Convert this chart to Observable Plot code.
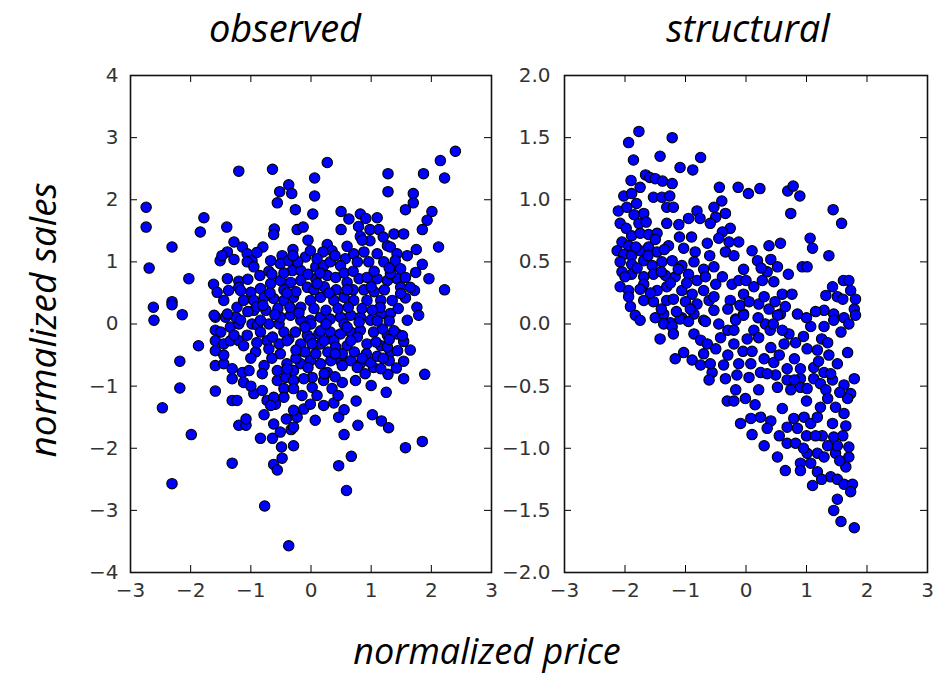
<!DOCTYPE html>
<html><head><meta charset="utf-8">
<script src="https://cdn.jsdelivr.net/npm/d3@7"></script>
<script src="https://cdn.jsdelivr.net/npm/@observablehq/plot@0.6"></script>
<style>
html,body{margin:0;padding:0;background:#fff;}
#wrap{position:relative;width:935px;height:677px;overflow:hidden;background:#fff;}
#wrap > svg{position:absolute;top:0;}
</style></head><body><div id="wrap"></div>
<script>
// Titles and axis labels
const panelTitles = ["observed", "structural"];
const xAxisLabel = "normalized price";
const yAxisLabel = "normalized sales";

// Tick values
const xTicks = [-3, -2, -1, 0, 1, 2, 3];
const observedYTicks = [-4, -3, -2, -1, 0, 1, 2, 3, 4];
const structuralYTicks = [-2, -1.5, -1, -0.5, 0, 0.5, 1, 1.5, 2];

// observed panel: [normalized price, normalized sales]
const observed = [
[-1.20,2.46],[-0.64,2.49],[-0.37,2.24],[-0.52,2.13],[-0.32,2.10],[-0.56,1.95],[-0.26,1.84],[-2.74,1.88],[-2.74,1.56],[-1.78,1.71],
[-1.84,1.48],[-1.40,1.56],[-0.61,1.53],[-0.62,1.44],[-0.23,1.52],[-2.31,1.24],[-2.69,0.90],[-2.03,0.73],[-2.62,0.27],[-2.61,0.06],
[-2.31,0.36],[-2.31,0.31],[-2.14,0.15],[-1.28,1.32],[-1.39,1.16],[-1.51,1.02],[-1.28,1.04],[-1.14,1.24],[-1.06,1.13],[-0.98,1.02],
[-0.80,1.24],[-0.48,1.10],[-0.30,1.20],[-0.67,1.02],[-0.70,0.85],[-1.62,0.64],[-1.56,0.51],[-1.39,0.73],[-1.37,0.54],[-1.20,0.69],
[-1.20,0.59],
[0.27,2.60],[0.06,2.35],[0.06,2.06],[0.03,1.77],[-0.13,1.56],[1.28,2.42],[1.28,2.13],[1.87,2.42],[2.15,2.63],[2.40,2.78],
[2.22,2.35],[1.70,2.10],[1.70,1.95],[1.57,1.84],[2.01,1.81],[1.93,1.67],[1.85,1.52],[2.12,1.24],[2.22,0.55],[1.38,1.45],
[1.54,1.45],[0.50,1.81],[0.63,1.69],[0.82,1.77],[1.10,1.71],[0.50,1.52],[0.79,1.57],[0.98,1.52],[1.13,1.52],[0.82,1.41],
[0.98,1.34],[0.91,1.70],[0.27,1.28],[0.35,1.18],[1.27,1.26],[1.32,1.24],[1.85,0.96],[1.96,0.73],[1.72,0.54],[1.57,0.42],
[1.76,0.27],[1.79,0.14],[1.60,0.06],[-0.09,1.08],[0.20,1.16],[0.57,1.05],
[-1.87,-0.35],[-2.18,-0.60],[-2.18,-1.03],[-2.47,-1.35],[-1.99,-1.78],[-2.31,-2.57],[-1.31,-2.24],[-0.77,-2.93],[-0.37,-3.57],[-1.59,-1.08],
[-1.31,-1.23],[-1.23,-1.23],[-1.20,-1.63],[-1.08,-1.63],[-1.08,-1.53],[-0.84,-1.84],[-0.64,-1.84],[-0.49,-1.98],[-0.48,-2.16],[-0.62,-2.26],
[-0.56,-2.35],[-0.29,-1.96],[-0.78,-1.46],[-0.62,-1.61],[-0.51,-1.74],[-0.41,-1.53],[-0.33,-1.70],[-0.26,-1.47],[-0.95,-1.12],[-0.81,-1.07],
[-0.73,-1.23],[-0.59,-1.29],[-1.59,-0.67],[-1.45,-0.64],[-1.31,-0.72],[-1.31,-0.88],[-1.14,-0.78],[-1.03,-0.75],[-1.12,-0.94],[-0.92,-0.45],
[-0.78,-0.67],[-0.81,-0.80],[-1.59,0.11],[-1.59,-0.10],[-1.59,-0.27],[-1.59,-0.43],[-1.45,-0.32],[-1.34,-0.05],[-1.34,-0.27],[-1.20,-0.27],
[-1.20,0.00],[-1.12,-0.35],[-1.42,0.11],[-1.25,0.11],[-0.98,0.00],[-0.89,-0.02],[-0.70,0.00],[-0.53,0.00],[-0.73,-0.27],[-0.53,-0.32],
[-0.37,-0.24],[-0.51,-0.48],[-0.40,-0.64],[-0.29,-0.75],[-0.56,-0.91],[-0.42,-0.86],[-0.29,-0.91],[-0.45,-1.04],[-0.29,-1.04],
[0.59,-2.68],[0.46,-2.28],[0.67,-2.13],[0.55,-1.78],[0.78,-1.63],[0.46,-1.50],[0.55,-1.38],[0.75,-1.24],[1.02,-1.46],[1.17,-1.56],
[1.29,-1.67],[1.57,-1.99],[1.85,-1.89],[1.89,-0.81],[1.54,-0.88],[1.25,-1.10],[1.00,-0.99],[1.54,-0.60],[1.28,-0.81],[1.42,-0.71],
[1.54,-0.28],[1.65,-0.42],[1.32,0.17],[0.07,-1.55],[-0.12,-1.37],[-0.01,-1.29],[0.21,-1.31],[0.38,-1.27],[-0.23,-1.50],[-0.29,-1.66],
[0.02,-1.02],[0.35,-1.04],[0.52,-0.94],[0.21,-0.91],[0.02,-0.86],
[-0.01,1.18],[0.71,1.13],[0.88,1.16],[1.10,1.13],[1.43,1.13],[-1.48,1.10],[-1.06,1.00],[-0.95,0.92],[-0.51,0.97],[-0.37,1.02],
[-0.31,0.86],[-0.17,0.86],[0.08,0.92],[0.21,0.94],[0.32,1.00],[0.49,0.94],[0.77,1.00],[0.96,1.00],[1.21,1.00],[1.38,0.94],
[-1.17,0.54],[-1.00,0.51],[-0.84,0.57],[-0.67,0.65],[-0.51,0.70],[-0.34,0.67],[-0.17,0.70],[-0.06,0.59],[0.08,0.73],[0.27,0.78],
[0.41,0.75],[0.60,0.67],[0.80,0.73],[0.93,0.75],[1.10,0.73],[1.27,0.70],[1.43,0.73],[-1.45,0.38],[-1.61,0.14],[-1.39,0.16],
[-1.23,0.27],[-1.12,0.38],[-0.95,0.38],[-0.95,0.22],[-0.78,0.43],[-0.62,0.41],[-0.45,0.38],[-0.29,0.43],[-0.17,0.27],[-0.01,0.38],
[0.16,0.43],[0.38,0.38],[0.55,0.43],[0.71,0.38],[0.93,0.38],[1.16,0.38],[1.35,0.38],[1.49,0.59],[-1.17,0.06],[-0.84,0.06],
[-0.51,0.11],[-0.34,0.14],[-0.17,0.06],[-0.01,0.06],[0.16,0.11],[0.32,0.08],[0.49,0.11],[0.66,0.14],[0.82,0.11],[0.99,0.06],
[1.16,0.16],[-1.50,-0.13],[-1.28,-0.18],[-1.06,-0.18],[-0.84,-0.13],[-0.64,-0.21],[-0.45,-0.13],[-0.26,-0.13],[-0.06,-0.18],[0.13,-0.16],
[0.32,-0.13],[0.49,-0.16],[0.66,-0.13],[0.82,-0.10],[1.04,-0.13],[1.27,-0.18],[1.43,-0.16],
[-0.40,-0.27],[-0.17,-0.32],[-0.01,-0.24],[0.16,-0.32],[0.38,-0.27],[0.60,-0.35],[0.77,-0.21],[0.93,-0.32],[1.16,-0.35],[1.32,-0.45],
[-0.56,-0.75],[-0.40,-0.72],[-0.17,-0.64],[-0.01,-0.59],[0.16,-0.64],[0.27,-0.78],[0.49,-0.59],[0.66,-0.59],[0.82,-0.64],[1.04,-0.70],
[-0.62,-1.18],[-0.45,-1.18],[-0.12,-0.88],[0.74,-0.91],[-0.67,-1.31],[-0.29,-1.39],
[1.40,1.02],[1.49,0.89],[1.57,0.75],[1.74,0.83],[1.32,0.81],[1.65,0.59],[1.49,0.49],[1.15,0.27],
[0.00,0.00],[0.16,-0.11],[0.80,0.03],[1.19,-0.08],[1.38,-0.11],[1.52,-0.19],[0.02,-0.32],[0.22,-0.27],[0.41,-0.37],[0.66,-0.27],
[1.08,-0.29],[1.27,-0.37],[1.44,-0.43],[0.33,-0.59],[0.52,-0.67],[0.77,-0.70],[0.99,-0.62],[1.16,-0.72],[1.30,-0.59],[0.22,-0.80],
[0.05,0.25],[0.25,0.22],[0.45,0.25],[0.62,0.27],[0.85,0.25],[1.02,0.22],[-0.35,0.27],[-0.55,0.25],[-0.75,0.22],
[0.05,0.55],[0.22,0.60],[0.42,0.55],[0.70,0.55],[0.88,0.55],[1.05,0.52],[1.22,0.55],[-0.25,0.52],[-0.45,0.55],[-0.68,0.50],
[-0.05,0.80],[0.15,0.82],[0.55,0.82],[0.70,0.85],[1.05,0.85],[-0.45,0.82],[-0.85,0.78],[-1.05,0.72],
[-0.10,-0.45],[0.08,-0.48],[0.28,-0.45],[0.52,-0.48],[0.72,-0.45],[0.92,-0.48],[1.10,-0.52],[-0.25,-0.55],[-0.65,-0.55],
[-0.22,1.00],[0.10,1.05],[0.60,1.25],[-0.05,1.35],[1.60,1.10],[1.75,1.20],
[-0.60,0.15],[-0.20,0.18],[0.25,0.00],[0.55,0.00],[1.10,0.05],[1.30,0.05],[-0.90,0.28],[-1.05,0.20],[-0.70,-0.40],[-0.25,-0.42],
[0.40,-0.48],[0.85,-0.55],[1.20,-0.55],[-0.90,-0.30],[-1.00,-0.55],[-0.05,-0.70],[0.40,-0.85],[0.90,-0.80],[-0.65,0.80],[-0.30,1.10],
[0.40,1.10],[0.85,1.35],[1.20,1.40],[-0.90,1.15],[0.10,0.65],[0.60,0.55],[-0.40,0.50],[-0.80,0.30],[1.00,0.60],[1.30,0.90],
[0.30,0.50],[-0.10,-0.05],[0.60,-0.05],[1.45,0.25],[-1.45,-0.50],[-1.00,-1.00],[0.45,-1.15],[0.10,-1.15],[-0.15,-1.15],[1.30,-0.25]
];

// structural panel: [normalized price, normalized sales]
const structural = [
[-1.77,1.55],[-1.94,1.46],[-1.22,1.50],[-1.86,1.32],[-1.42,1.35],[-1.09,1.26],[-0.88,1.24],[-0.75,1.34],[-1.90,1.155],[-1.66,1.20],
[-1.59,1.18],[-1.50,1.17],[-1.38,1.15],[-1.22,1.13],[-1.75,1.10],[-2.02,1.03],[-1.89,1.05],[-1.53,1.02],[-1.39,1.02],[-1.26,1.03],
[-1.81,0.97],[-2.11,0.91],[-1.97,0.94],[-1.69,0.89],[-1.31,0.94],[-1.20,0.94],[-0.81,0.91],[-0.76,0.85],
[-1.77,0.81],[-2.08,0.81],[-1.98,0.77],[-1.31,0.81],[-1.11,0.80],[-1.89,0.71],[-1.75,0.73],[-1.61,0.72],[-1.47,0.73],[-2.05,0.66],
[-1.94,0.63],[-2.13,0.59],[-2.02,0.56],[-1.89,0.55],[-1.75,0.59],[-1.61,0.62],[-1.47,0.58],[-1.28,0.63],[-1.03,0.61],[-0.84,0.58],
[-2.08,0.50],[-1.89,0.48],[-1.69,0.51],[-1.55,0.47],[-1.39,0.50],[-1.22,0.51],[-1.06,0.47],[-0.86,0.50],[-0.70,0.44],[-0.53,0.46],
[-2.05,0.42],[-1.89,0.40],[-1.69,0.38],[-1.53,0.40],[-1.33,0.39],[-1.17,0.38],[-0.95,0.40],[-0.81,0.35],[-2.08,0.30],[-1.94,0.27],
[-1.69,0.32],[-1.47,0.27],[-1.31,0.30],[-1.06,0.27],[-0.89,0.24],[-0.70,0.27],[-1.94,0.22],[-1.91,0.14],[-1.69,0.19],[-1.53,0.18],
[-1.31,0.19],[-1.20,0.20],[-1.00,0.18],[-0.81,0.16],[-0.61,0.19],[-1.83,0.07],[-1.75,0.03],[-1.50,0.05],[-1.36,0.08],[-1.25,0.01],
[-1.06,0.05],[-0.86,0.08],[-0.70,0.03],
[-0.44,1.10],[-0.13,1.10],[0.04,1.05],[0.23,1.09],[0.69,1.07],[0.78,1.11],[0.89,1.03],[0.74,0.89],[1.44,0.92],[1.58,0.81],
[-0.40,0.99],[-0.53,0.94],[-0.34,0.89],[-0.50,0.86],[-0.59,0.81],[-0.26,0.77],[-0.39,0.74],[-0.45,0.69],[-0.64,0.65],[-0.28,0.66],
[-0.12,0.66],[-0.34,0.58],[-0.20,0.55],[0.10,0.59],[0.19,0.51],[0.38,0.63],[0.57,0.65],[0.41,0.52],[0.52,0.46],[-0.04,0.44],
[0.35,0.42],[1.06,0.69],[1.10,0.61],[1.37,0.55],[0.93,0.46],[1.01,0.46],[-0.67,0.38],[-0.50,0.32],[-0.39,0.38],[-0.23,0.32],
[-0.12,0.35],[0.13,0.30],[0.27,0.35],[0.46,0.34],[0.60,0.24],[0.76,0.24],[1.61,0.35],[1.43,0.30],[1.73,0.27],[1.32,0.23],
[1.51,0.22],[1.81,0.20],[-0.53,0.22],[-0.26,0.19],[-0.04,0.24],[0.21,0.16],[0.38,0.12],[0.57,0.08],[0.85,0.08],[-0.53,0.11],
[-0.17,0.04],[-0.04,0.08],[1.29,0.11],[1.45,0.08],[1.62,0.05],[1.79,0.12],[1.07,-0.02],[1.29,-0.02],
[-1.36,0.00],[-1.22,-0.02],[-1.09,0.04],[-0.95,0.02],[-0.86,-0.08],[-0.75,-0.13],[-1.42,-0.12],[-1.20,-0.08],[-1.03,-0.23],[-0.89,-0.29],
[-0.75,-0.33],[-0.64,-0.16],[-0.70,-0.24],[-1.17,-0.28],[-0.56,-0.39],[-0.61,-0.45],
[-0.67,0.02],[-0.45,0.00],[-0.42,-0.11],[-0.17,0.03],[-0.04,0.07],[0.13,-0.05],[0.32,0.00],[0.52,0.07],[0.71,-0.08],[1.45,0.03],
[1.57,-0.065],[1.70,0.00],[1.81,0.07],[1.68,-0.23],[-0.20,-0.16],[0.02,-0.12],[0.21,-0.11],[0.41,-0.19],[0.63,-0.16],[0.82,-0.15],
[1.01,-0.20],[1.18,-0.21],[1.37,-0.25],[1.51,-0.32],[-0.59,-0.32],[-0.37,-0.33],[-0.34,-0.44],[-0.12,-0.32],[-0.15,-0.41],[0.08,-0.32],
[0.05,-0.43],[0.24,-0.39],[0.46,-0.31],[0.49,-0.41],[0.68,-0.36],[0.68,-0.45],[0.90,-0.36],[0.90,-0.44],[1.12,-0.35],[1.12,-0.44],
[1.29,-0.39],[1.43,-0.45],[1.62,-0.49],[1.79,-0.44],[1.73,-0.56],[1.68,-0.60],[-0.17,-0.53],[-0.01,-0.60],[-0.31,-0.62],[-0.20,-0.62],
[0.21,-0.53],[0.52,-0.51],[0.74,-0.53],[0.90,-0.51],[1.01,-0.52],[1.23,-0.48],[1.32,-0.53],[-0.09,-0.80],[0.08,-0.76],[0.24,-0.75],
[0.41,-0.78],[0.35,-0.84],[0.10,-0.89],[0.30,-0.98],[0.52,-1.07],[0.65,-1.18],[0.68,-0.83],[0.79,-0.76],[0.85,-0.84],[0.96,-0.75],
[1.07,-0.80],[1.18,-0.75],[1.23,-0.67],[1.48,-0.67],[1.43,-0.80],[1.62,-0.72],[1.65,-0.82],[1.26,-0.90],[1.45,-0.91],[0.68,-0.96],
[0.82,-0.96],[0.90,-1.12],[1.07,-1.12],[1.01,-1.04],[1.18,-1.04],[1.29,-1.07],[1.48,-1.04],[1.70,-1.07],[1.51,-0.98],[1.70,-0.99],
[1.18,-1.19],[1.40,-1.23],[1.51,-1.25],[1.62,-1.29],[1.76,-1.29],[1.73,-1.35],[1.51,-1.41],[1.45,-1.50],[1.57,-1.59],[1.79,-1.64],
[1.10,-1.30],[0.90,-1.18],
[-1.80,0.45],[-1.62,0.55],[-1.40,0.42],[-1.25,0.33],[-1.12,0.44],[-0.98,0.33],[-1.75,0.28],[-1.58,0.25],[-1.40,0.12],[-1.15,0.10],
[-0.92,0.12],[-1.82,0.62],[-1.50,0.68],[-1.35,0.60],[-2.00,0.38],[-1.85,0.88],[-1.65,0.82],
[-0.30,0.12],[-0.10,0.15],[0.05,0.18],[0.30,0.22],[0.48,0.18],[0.65,0.14],[-0.30,-0.05],[0.40,-0.05],[0.95,-0.10],[1.25,-0.12],
[0.55,-0.25],[0.30,-0.28],[-0.05,-0.22],[0.80,-0.28],[1.00,-0.62],[0.60,-0.68],[1.35,-0.98],[1.60,-0.90],[1.00,-0.90],[1.65,-1.15],
[1.55,-1.10],
[-0.20,-0.05],[0.20,0.05],[0.45,0.00],[0.60,-0.05],[1.15,0.10],[1.00,0.05],[-0.50,-0.20],[0.10,-0.22],[0.35,-0.40],[0.80,-0.45],
[1.20,-0.30],[0.00,0.35],[0.25,0.45],[0.70,0.40],[-0.90,0.70],[-1.10,0.70],[-0.60,0.55],[-0.95,0.85],[1.35,-0.60],[1.40,-0.40],
[0.55,-0.90],[1.25,-1.25],[1.35,-0.15],[1.55,-0.55],[0.15,-0.65],[-0.30,-0.25],[1.60,0.20],[1.70,0.35],[0.95,-1.00],[1.15,-0.90]
];

const wrap = document.getElementById("wrap");
const PANEL_H = 600, M_TOP = 75, M_BOTTOM = 28, TICK = 7;

function panel({data, width, marginLeft, marginRight, yDomain, yTicks, yFormat, yPad, left}) {
  const innerW = width - marginLeft - marginRight;
  const innerH = PANEL_H - M_TOP - M_BOTTOM;
  const svg = Plot.plot({
    width, height: PANEL_H, marginLeft, marginRight, marginTop: M_TOP, marginBottom: M_BOTTOM,
    style: {fontFamily: "'DejaVu Sans', sans-serif", fontSize: "20px", background: "transparent", overflow: "visible"},
    x: {domain: [-3, 3]},
    y: {domain: yDomain},
    marks: [
      Plot.dot(data, {x: d => d[0], y: d => d[1], r: 5.2, fill: "#0000ff", stroke: "#000", strokeWidth: 1.1}),
      Plot.tickX(xTicks, {x: d => d, insetTop: innerH - TICK, stroke: "#000", strokeWidth: 1}),
      Plot.tickX(xTicks, {x: d => d, insetBottom: innerH - TICK, stroke: "#000", strokeWidth: 1}),
      Plot.tickY(yTicks, {y: d => d, insetRight: innerW - TICK, stroke: "#000", strokeWidth: 1}),
      Plot.tickY(yTicks, {y: d => d, insetLeft: innerW - TICK, stroke: "#000", strokeWidth: 1}),
      Plot.axisX(xTicks, {tickSize: 0, tickPadding: 10, label: null, tickFormat: d3.format("d"), fontSize: 20, fill: "#333"}),
      Plot.axisY(yTicks, {tickSize: 0, tickPadding: yPad, label: null, tickFormat: yFormat, fontSize: 20, fill: "#333"}),
      Plot.frame({stroke: "#111", strokeWidth: 1.6})
    ]
  });
  svg.style.left = left + "px";
  wrap.appendChild(svg);
}

panel({data: observed, width: 500, marginLeft: 130, marginRight: 9, yDomain: [-4, 4],
       yTicks: observedYTicks, yFormat: d3.format("d"), yPad: 12, left: 0});
panel({data: structural, width: 435, marginLeft: 64, marginRight: 8, yDomain: [-2, 2],
       yTicks: structuralYTicks, yFormat: d3.format(".1f"), yPad: 14, left: 500});

// Text overlay
const ns = "http://www.w3.org/2000/svg";
const over = document.createElementNS(ns, "svg");
over.setAttribute("width", 935); over.setAttribute("height", 677);
over.style.left = "0px"; over.style.pointerEvents = "none";
function addText(str, x, y, size, rotate) {
  const t = document.createElementNS(ns, "text");
  t.textContent = str;
  t.setAttribute("text-anchor", "middle");
  t.setAttribute("font-family", "'Open Sans', sans-serif");
  t.setAttribute("font-style", "italic");
  t.setAttribute("font-size", size);
  t.setAttribute("fill", "#000");
  if (rotate) t.setAttribute("transform", `translate(${x},${y}) rotate(-90)`);
  else { t.setAttribute("x", x); t.setAttribute("y", y); }
  over.appendChild(t);
}
addText(panelTitles[0], 285, 42, 38);
addText(panelTitles[1], 748, 42, 38);
addText(yAxisLabel, 56, 320, 37, true);
addText(xAxisLabel, 487, 664, 36);
wrap.appendChild(over);
</script>
</body></html>
